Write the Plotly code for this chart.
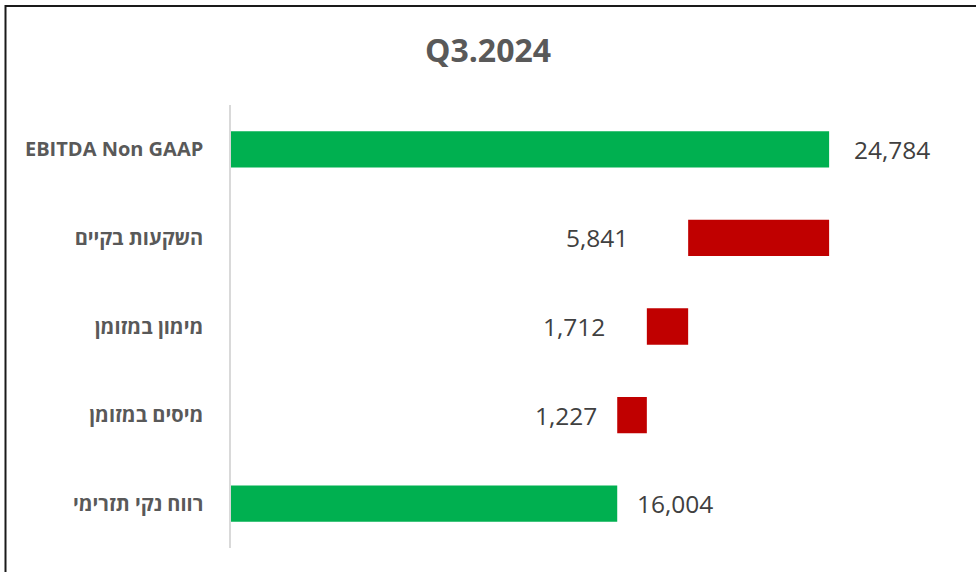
import plotly.graph_objects as go

categories = ["EBITDA Non GAAP", "השקעות בקיים", "מימון במזומן", "מיסים במזומן", "רווח נקי תזרימי"]
values = [24784, -5841, -1712, -1227, 16004]
measures = ["absolute", "relative", "relative", "relative", "total"]
labels = [f"{abs(v):,}" for v in values]

# label offsets from bar ends (pixels) - style only
label_gap = [23, 58, 40, 18, 18]

W, H = 976, 572
ML, MR, MT, MB = 231, 21, 105, 24
PW = W - ML - MR
PH = H - MT - MB
FONT = "Open Sans, DejaVu Sans, sans-serif"

fig = go.Figure(go.Waterfall(
    orientation="h",
    y=categories,
    x=values,
    measure=measures,
    increasing=dict(marker=dict(color="#00B050")),
    decreasing=dict(marker=dict(color="#C00000")),
    totals=dict(marker=dict(color="#00B050")),
    connector=dict(visible=False),
    textinfo="none",
    hoverinfo="skip",
))

# value labels at the bar ends (running totals derived from the data)
annotations = []
running = 0
for cat, v, m, lab, gap in zip(categories, values, measures, labels, label_gap):
    if m == "absolute":
        running = v
    elif m == "relative":
        running += v
    neg = (m == "relative" and v < 0)
    annotations.append(dict(
        x=running, y=cat, xref="x", yref="y",
        text=lab, showarrow=False,
        xanchor="right" if neg else "left",
        xshift=-gap if neg else gap,
        yanchor="middle",
        font=dict(size=24.5, color="#404040", family=FONT),
    ))

def px_x(p):
    return (p - ML) / PW

def px_y(p):
    return (H - MB - p) / PH

fig.update_layout(
    width=W, height=H,
    margin=dict(l=ML, r=MR, t=MT, b=MB),
    paper_bgcolor="white",
    plot_bgcolor="white",
    showlegend=False,
    waterfallgap=0.59,
    annotations=annotations,
    title=dict(
        text="<b>Q3.2024</b>",
        x=0.5, xref="container", xanchor="center",
        y=1 - 51 / H, yref="container", yanchor="middle",
        font=dict(size=32, color="#595959", family=FONT),
    ),
    xaxis=dict(
        range=[0, 30000],
        visible=False,
        showgrid=False,
        zeroline=False,
    ),
    yaxis=dict(
        autorange="reversed",
        showline=True,
        linecolor="#D9D9D9",
        linewidth=1.5,
        showgrid=False,
        zeroline=False,
        ticks="",
        ticklabelstandoff=22,
        tickfont=dict(size=20, color="#595959", family=FONT, weight="bold"),
    ),
    shapes=[dict(
        type="rect", xref="paper", yref="paper",
        x0=px_x(5.5), x1=px_x(990),
        y0=px_y(590), y1=px_y(6),
        line=dict(color="#1A1A1A", width=2),
        fillcolor="rgba(0,0,0,0)",
        layer="above",
    )],
)

fig.write_html("out.html", config={"displayModeBar": False},
               post_script="document.body.style.margin='0px';")
